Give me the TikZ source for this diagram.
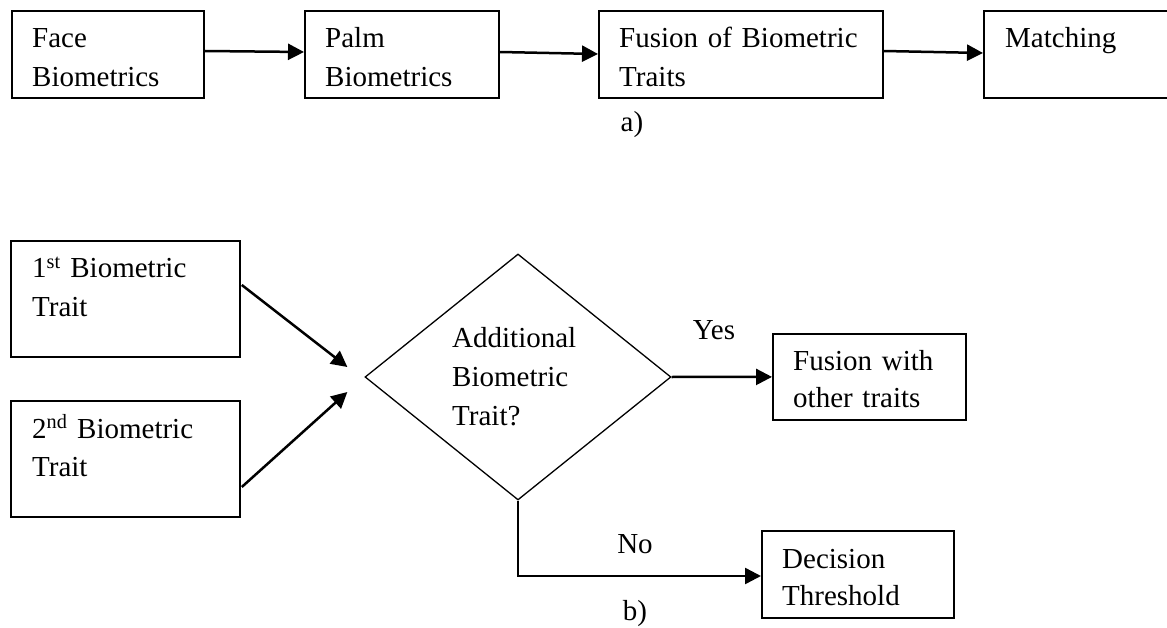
\documentclass[tikz,border=0pt]{standalone}
\usepackage{fontspec}
\setmainfont{Liberation Serif}
\usetikzlibrary{arrows.meta,shapes.geometric,calc}
\begin{document}
\begin{tikzpicture}[x=1pt,y=-1pt,
  box/.style={draw, line width=1.8pt, inner sep=0pt, anchor=north west},
  txt/.style={anchor=base west, inner sep=0pt, align=left, text width=260pt, font=\fontsize{29}{38.5}\selectfont},
  conn/.style={line width=2.5pt, -{Triangle[length=16pt,width=16pt]}},
  lbl/.style={anchor=base, inner sep=0pt, font=\fontsize{29}{38.5}\selectfont}]
\useasboundingbox (0,0) rectangle (1167,628);

% ---- a) top row
\node[box, minimum width=192pt, minimum height=87pt] (a1) at (11,10) {};
\node[box, minimum width=194pt, minimum height=87pt] (a2) at (304,10) {};
\node[box, minimum width=284pt, minimum height=87pt] (a3) at (598,10) {};
\node[box, minimum width=200pt, minimum height=87pt] (a4) at (983,10) {};
\node[txt] (ta1) at ($(a1.north west)+(21,38)$) {Face\\Biometrics};
\node[txt] (ta2) at ($(a2.north west)+(21,38)$) {Palm\\Biometrics};
\node[txt] (ta3) at ($(a3.north west)+(21,38)$) {Fusion of Biometric\\Traits};
\node[txt] (ta4) at ($(a4.north west)+(22,38)$) {Matching};
\draw[conn] ($(a1.north east)+(0,41)$) -- ($(a2.north west)+(0,42)$);
\draw[conn] ($(a2.north east)+(0,42)$) -- ($(a3.north west)+(0,44)$);
\draw[conn] ($(a3.north east)+(0,41)$) -- ($(a4.north west)+(0,43)$);
\node[lbl] (la) at (632,132) {a)};

% ---- b) flowchart
\node[box, minimum width=229pt, minimum height=116pt] (b1) at (10,240) {};
\node[box, minimum width=229pt, minimum height=116pt] (b2) at (10,400) {};
\node[txt] (tb1) at ($(b1.north west)+(22,38)$) {1\textsuperscript{st} Biometric\\Trait};
\node[txt] (tb2) at ($(b2.north west)+(22,38)$) {2\textsuperscript{nd} Biometric\\Trait};
\node[diamond, draw, line width=1.3pt, inner sep=0pt, aspect=1.244,
      minimum width=306pt, minimum height=246pt] (d) at (518,377) {};
\node[txt, font=\fontsize{29}{39}\selectfont] (td) at (452,347) {Additional\\Biometric\\Trait?};
\draw[conn] ($(b1.north east)+(1,45)$) -- ($(d.west)+(-17,-10)$);
\draw[conn] ($(b2.north east)+(1,87)$) -- ($(d.west)+(-17,15)$);

\node[box, minimum width=193pt, minimum height=86pt] (f) at (772,333) {};
\node[txt, font=\fontsize{29}{37}\selectfont] (tf) at ($(f.north west)+(21,37)$) {Fusion with\\other traits};
\draw[conn] (d.east) -- (f.west);
\node[lbl] (ly) at (714,339) {Yes};

\node[box, minimum width=192pt, minimum height=87pt] (dt) at (761,530) {};
\node[txt, font=\fontsize{29}{37}\selectfont] (tdt) at ($(dt.north west)+(21,38)$) {Decision\\Threshold};
\draw[conn] (d.south) |- ($(dt.north west)+(0,46)$);
\node[lbl] (ln) at (635,553) {No};
\node[lbl] (lb) at (635,620) {b)};
\end{tikzpicture}
\end{document}
